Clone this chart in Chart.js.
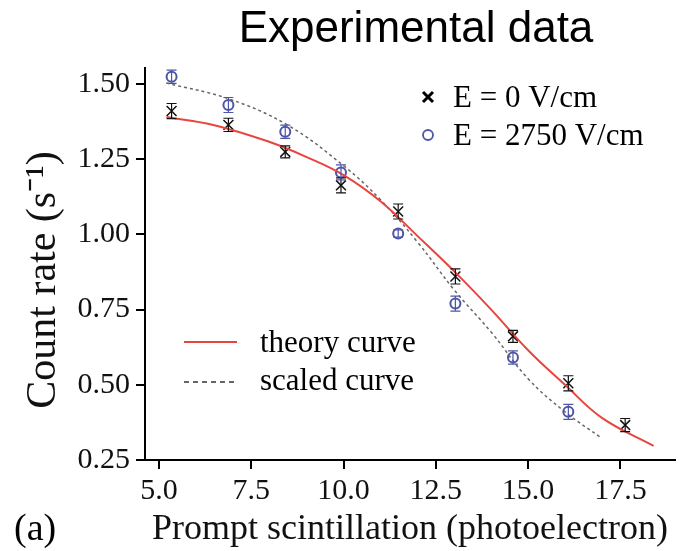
<!DOCTYPE html>
<html>
<head>
<meta charset="utf-8">
<script src="https://cdn.jsdelivr.net/npm/chart.js@4"></script>
<style>
  body { margin: 0; background: #fff; }
  #wrap { width: 687px; height: 551px; }
</style>
</head>
<body>
<div id="wrap"><canvas id="rateChart" width="687" height="551"></canvas></div>
<script>
// measured points
const scintX = [5.34, 6.88, 8.42, 9.93, 11.48, 13.03, 14.59, 16.09, 17.63];
const rateZeroField = [1.41, 1.364, 1.274, 1.163, 1.076, 0.86, 0.661, 0.505, 0.366];
const errZeroField = [0.025, 0.022, 0.02, 0.025, 0.025, 0.025, 0.02, 0.025, 0.022];
const rateHighField = [1.524, 1.43, 1.341, 1.206, 1.003, 0.77, 0.591, 0.41];
const errHighField = [0.022, 0.025, 0.022, 0.025, 0.012, 0.025, 0.022, 0.025];

// curves
const theoryX = [5.2, 6.5, 8.0, 9.0, 10.0, 11.0, 12.0, 13.0, 14.0, 15.0, 16.0, 17.0, 18.4];
const theoryY = [1.39, 1.363, 1.307, 1.257, 1.197, 1.11, 0.995, 0.877, 0.75, 0.615, 0.5, 0.39, 0.297];
const scaledX = [5.2, 6.9, 8.5, 10.0, 11.0, 12.0, 13.0, 14.0, 15.0, 16.0, 17.0];
const scaledY = [1.503, 1.45, 1.362, 1.228, 1.115, 0.975, 0.815, 0.675, 0.52, 0.41, 0.322];

const xTicks = [5.0, 7.5, 10.0, 12.5, 15.0, 17.5];
const yTicks = [0.25, 0.5, 0.75, 1.0, 1.25, 1.5];

const SERIF = '"Liberation Serif", "Times New Roman", serif';
const SANS = '"Liberation Sans", Arial, sans-serif';
const BLUE = '#4d55a8';
const RED = '#e8453f';

const pts = (xs, ys) => ys.map((y, i) => ({ x: xs[i], y: y }));

const errorBars = {
  id: 'errorBars',
  afterDatasetsDraw(chart) {
    const c = chart.ctx;
    const ys = chart.scales.y;
    chart.data.datasets.forEach((ds, di) => {
      if (!ds.errors) return;
      const meta = chart.getDatasetMeta(di);
      c.save();
      c.strokeStyle = ds.borderColor;
      c.lineWidth = 1.2;
      meta.data.forEach((el, i) => {
        const v = ds.data[i].y;
        const top = ys.getPixelForValue(v + ds.errors[i]);
        const bot = ys.getPixelForValue(v - ds.errors[i]);
        c.beginPath();
        c.moveTo(el.x, top); c.lineTo(el.x, bot);
        c.moveTo(el.x - 5, top); c.lineTo(el.x + 5, top);
        c.moveTo(el.x - 5, bot); c.lineTo(el.x + 5, bot);
        c.stroke();
      });
      c.restore();
    });
  }
};

const extraText = {
  id: 'extraText',
  afterDraw(chart) {
    const c = chart.ctx;
    c.save();
    c.fillStyle = '#000';
    c.textBaseline = 'alphabetic';
    c.textAlign = 'center';
    c.font = '44px ' + SANS;
    c.fillText('Experimental data', 416, 42);

    // y axis title
    c.save();
    c.translate(55, 280);
    c.rotate(-Math.PI / 2);
    c.font = '42px ' + SERIF;
    c.fillStyle = '#111';
    c.fillText('Count rate (s\u207B\u00B9)', 0, 0);
    c.restore();

    c.textAlign = 'left';
    c.font = '38px ' + SERIF;
    c.fillText('(a)', 14, 540);

    // legend, top right
    c.font = '31px ' + SERIF;
    c.strokeStyle = '#000';
    c.lineWidth = 3;
    c.beginPath();
    c.moveTo(423, 92); c.lineTo(433, 102);
    c.moveTo(433, 92); c.lineTo(423, 102);
    c.stroke();
    c.fillText('E = 0 V/cm', 453, 107);
    c.strokeStyle = BLUE;
    c.lineWidth = 1.8;
    c.beginPath();
    c.arc(428, 135, 5, 0, Math.PI * 2);
    c.stroke();
    c.fillText('E = 2750 V/cm', 453, 145);

    // legend, lower left
    c.strokeStyle = RED;
    c.lineWidth = 2;
    c.beginPath();
    c.moveTo(184, 342); c.lineTo(237, 342);
    c.stroke();
    c.fillText('theory curve', 260, 352);
    c.strokeStyle = '#333';
    c.lineWidth = 1.5;
    c.setLineDash([5, 4]);
    c.beginPath();
    c.moveTo(184, 382); c.lineTo(237, 382);
    c.stroke();
    c.setLineDash([]);
    c.fillText('scaled curve', 260, 390);
    c.restore();
  }
};

new Chart(document.getElementById('rateChart'), {
  type: 'scatter',
  data: {
    datasets: [
      {
        label: 'theory curve',
        data: pts(theoryX, theoryY),
        showLine: true,
        borderColor: RED,
        borderWidth: 2,
        pointRadius: 0,
        tension: 0.4
      },
      {
        label: 'scaled curve',
        data: pts(scaledX, scaledY),
        showLine: true,
        borderColor: '#666',
        borderWidth: 1.5,
        borderDash: [3, 3],
        pointRadius: 0,
        tension: 0.4
      },
      {
        label: 'E = 0 V/cm',
        data: pts(scintX, rateZeroField),
        errors: errZeroField,
        pointStyle: 'crossRot',
        pointRadius: 7,
        borderColor: '#111',
        borderWidth: 1.5
      },
      {
        label: 'E = 2750 V/cm',
        data: pts(scintX, rateHighField),
        errors: errHighField,
        pointStyle: 'circle',
        pointRadius: 5,
        borderColor: BLUE,
        backgroundColor: 'rgba(255,255,255,0)',
        borderWidth: 2
      }
    ]
  },
  options: {
    responsive: false,
    animation: false,
    layout: { padding: { top: 68, right: 12, left: 0, bottom: 0 } },
    plugins: {
      legend: { display: false },
      tooltip: { enabled: false }
    },
    scales: {
      x: {
        type: 'linear',
        min: 4.62,
        max: 18.98,
        afterFit: (s) => { s.height = 91; },
        afterBuildTicks: (s) => { s.ticks = xTicks.map(v => ({ value: v })); },
        border: { display: true, color: '#000', width: 2 },
        grid: { drawOnChartArea: false, drawTicks: true, tickLength: 9, color: '#000', lineWidth: 2 },
        ticks: {
          includeBounds: false,
          padding: 4,
          color: '#111',
          font: { family: SERIF, size: 30 },
          callback: (v) => Number(v).toFixed(1)
        },
        title: {
          display: true,
          text: 'Prompt scintillation (photoelectron)',
          color: '#111',
          font: { family: SERIF, size: 36 },
          padding: { top: 0, bottom: 0 }
        }
      },
      y: {
        type: 'linear',
        min: 0.25,
        max: 1.553,
        afterFit: (s) => { s.width = 145; },
        afterBuildTicks: (s) => { s.ticks = yTicks.map(v => ({ value: v })); },
        border: { display: true, color: '#000', width: 2 },
        grid: { drawOnChartArea: false, drawTicks: true, tickLength: 9, color: '#000', lineWidth: 2 },
        ticks: {
          includeBounds: false,
          padding: 6,
          color: '#111',
          font: { family: SERIF, size: 30 },
          callback: (v) => Number(v).toFixed(2)
        },
        title: { display: false }
      }
    }
  },
  plugins: [errorBars, extraText]
});
</script>
</body>
</html>
